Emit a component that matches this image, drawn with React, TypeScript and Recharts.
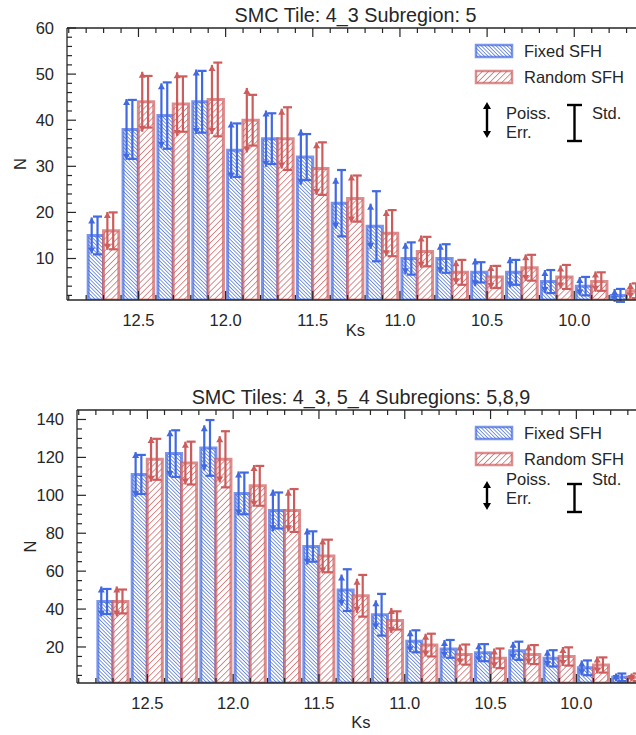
import React from "react";
import { ComposedChart, Bar, Scatter, XAxis, YAxis, ErrorBar, Legend, Label } from "recharts";

const INK = "#262626";
const BLUE = "#4169E1";
const RED = "#CD5C5C";
const FONT = "'Liberation Sans', Arial, sans-serif";
const FS = 16.5;

// Ks bin centres (0.2 mag bins)
const bins = [12.7, 12.5, 12.3, 12.1, 11.9, 11.7, 11.5, 11.3, 11.1, 10.9, 10.7, 10.5, 10.3, 10.1, 9.9, 9.7];
const xMajor = [12.5, 12.0, 11.5, 11.0, 10.5, 10.0];
const xDomain = [9.6, 12.91];

// top panel: SMC Tile 4_3, subregion 5
const fixedTop = [15, 38, 41, 44, 33.5, 36, 32, 22, 17, 10, 10, 7, 7, 5, 4, 2];
const fixedTopPoiss = [3.9, 6.6, 7, 7, 6.2, 6.1, 6, 5.5, 4.9, 3.4, 3.2, 3, 3.3, 2.5, 2, 1.4];
const fixedTopStd = [4.1, 6.4, 7.2, 6.7, 5.8, 5.5, 5, 7.2, 7.6, 3.5, 3.1, 2.2, 2.7, 2.5, 2, 1.4];
const randomTop = [16, 44, 43.5, 44.5, 40, 36, 29.5, 23, 15.5, 11.5, 7, 6, 8, 6, 5, 3];
const randomTopPoiss = [4.1, 6.5, 6.9, 7.5, 7, 6.5, 5.7, 5.2, 5, 3.5, 2.6, 2.6, 2.9, 2.5, 2.2, 1.7];
const randomTopStd = [4, 5.6, 6, 8, 5.5, 6.8, 5.7, 5, 5, 3.2, 2.7, 2.4, 2.8, 2.6, 2, 1.6];
const topYMajor = [10, 20, 30, 40, 50, 60];

// bottom panel: SMC Tiles 4_3, 5_4, subregions 5,8,9
const fixedBot = [44, 111, 122, 125, 101, 92, 73, 50, 37, 23, 19, 17, 18, 14, 9, 4];
const fixedBotPoiss = [7.9, 11.8, 12.3, 11.9, 11.6, 11, 9.5, 8.2, 7.6, 5.8, 4.7, 5, 4.7, 4.5, 3.9, 2];
const fixedBotStd = [6.6, 10.3, 12.3, 14.7, 11, 9.5, 8, 11, 11, 5.8, 4.7, 4.5, 4.8, 4.3, 3.9, 2];
const randomBot = [44, 119, 117, 119, 105, 92, 68, 47, 34, 21, 16, 14, 16, 15, 10.5, 4];
const randomBotPoiss = [7.9, 11.8, 11.3, 12.2, 11, 11, 9.2, 9, 6.6, 6, 5.3, 5.2, 5.3, 5, 4.5, 2];
const randomBotStd = [6.3, 10.8, 11.3, 14.8, 10.5, 11.3, 8.6, 11, 4.8, 6, 5.3, 5.2, 5, 4.8, 4, 2];
const botYMajor = [20, 40, 60, 80, 100, 120, 140];

// minor tick positions
const xTicks: number[] = [];
for (let k = 129; k >= 96; k--) xTicks.push(k / 10);
const topYTicks: number[] = [];
for (let v = 2; v <= 60; v += 2) topYTicks.push(v);
const botYTicks: number[] = [];
for (let v = 5; v <= 140; v += 5) botYTicks.push(v);

const isMajor = (list: number[], v: number) => list.some((m) => Math.abs(m - v) < 1e-6);

function hatchDefs(idp: string) {
  return (
    <>
      <pattern id={idp + "b"} patternUnits="userSpaceOnUse" width={2.6} height={2.6} patternTransform="rotate(-45)">
        <rect width={2.6} height={2.6} fill="#fff" />
        <line x1={1.3} y1={0} x2={1.3} y2={2.6} stroke={BLUE} strokeOpacity={0.8} strokeWidth={0.9} />
      </pattern>
      <pattern id={idp + "r"} patternUnits="userSpaceOnUse" width={4.3} height={4.3} patternTransform="rotate(45)">
        <rect width={4.3} height={4.3} fill="#fff" />
        <line x1={2.15} y1={0} x2={2.15} y2={4.3} stroke={RED} strokeOpacity={0.8} strokeWidth={0.9} />
      </pattern>
    </>
  );
}

const leftTick = (majors: number[]) => (p: any) => {
  const v = p.payload.value;
  const sx = p.x + 13;
  const big = isMajor(majors, v);
  return (
    <g>
      <line x1={sx} x2={sx + (big ? 9 : 5)} y1={p.y} y2={p.y} stroke={INK} strokeWidth={1.2} />
      {big && (
        <text x={p.x} y={p.y} dy="0.36em" textAnchor="end" fontSize={FS} fill={INK}>
          {v}
        </text>
      )}
    </g>
  );
};

const bottomTick = (p: any) => {
  const v = p.payload.value;
  const big = isMajor(xMajor, v);
  return (
    <g>
      <line x1={p.x} x2={p.x} y1={p.y} y2={p.y - (big ? 9 : 5)} stroke={INK} strokeWidth={1.2} />
      {big && (
        <text x={p.x} y={p.y + 26} textAnchor="middle" fontSize={FS} fill={INK}>
          {v.toFixed(1)}
        </text>
      )}
    </g>
  );
};

const topTick = (p: any) => {
  const big = isMajor(xMajor, p.payload.value);
  return <line x1={p.x} x2={p.x} y1={p.y} y2={p.y + (big ? 9 : 5)} stroke={INK} strokeWidth={1.2} />;
};

const headUp = (color: string) => (p: any) => (
  <polygon points={`${p.cx},${p.cy} ${p.cx - 3.5},${p.cy + 6} ${p.cx + 3.5},${p.cy + 6}`} fill={color} />
);
const headDown = (color: string) => (p: any) => (
  <polygon points={`${p.cx},${p.cy} ${p.cx - 3.5},${p.cy - 6} ${p.cx + 3.5},${p.cy - 6}`} fill={color} />
);
const noShape = () => <g />;

function errorSets(vals: number[], poiss: number[], std: number[], arrowOff: number, stdOff: number) {
  return {
    line: bins.map((c, i) => ({ x: c + arrowOff, y: vals[i], e: poiss[i] })),
    up: bins.map((c, i) => ({ x: c + arrowOff, y: vals[i] + poiss[i] })),
    down: bins.map((c, i) => ({ x: c + arrowOff, y: vals[i] - poiss[i] })),
    sd: bins.map((c, i) => ({ x: c + stdOff, y: vals[i], e: std[i] })),
  };
}

type ErrLeg = { py: number; a0: number; a1: number; s0: number; s1: number };

function LegendBox({ idp, err }: { idp: string; err: ErrLeg }) {
  const t = { fontSize: FS, fill: INK };
  return (
    <svg width={176} height={130} style={{ display: "block", overflow: "visible", fontFamily: FONT }}>
      <defs>{hatchDefs(idp)}</defs>
      <rect x={16} y={15} width={36} height={12} fill={`url(#${idp}b)`} stroke={BLUE} strokeOpacity={0.7} strokeWidth={2.5} />
      <text x={64} y={21} dy="0.36em" {...t}>Fixed SFH</text>
      <rect x={16} y={41} width={36} height={12} fill={`url(#${idp}r)`} stroke={RED} strokeOpacity={0.7} strokeWidth={2.5} />
      <text x={64} y={47} dy="0.36em" {...t}>Random SFH</text>
      <line x1={27} x2={27} y1={err.a0 + 4} y2={err.a1 - 4} stroke="#000" strokeWidth={2.4} />
      <polygon points={`27,${err.a0} 23,${err.a0 + 7} 31,${err.a0 + 7}`} fill="#000" />
      <polygon points={`27,${err.a1} 23,${err.a1 - 7} 31,${err.a1 - 7}`} fill="#000" />
      <text x={46} y={err.py} dy="0.36em" {...t}>Poiss.</text>
      <text x={46} y={err.py + 19} dy="0.36em" {...t}>Err.</text>
      <line x1={114.5} x2={114.5} y1={err.s0} y2={err.s1} stroke="#000" strokeWidth={2.4} />
      <line x1={107} x2={122} y1={err.s0} y2={err.s0} stroke="#000" strokeWidth={2.4} />
      <line x1={107} x2={122} y1={err.s1} y2={err.s1} stroke="#000" strokeWidth={2.4} />
      <text x={132} y={err.py} dy="0.36em" {...t}>Std.</text>
    </svg>
  );
}

type PanelProps = {
  idp: string;
  title: string;
  fixed: number[];
  fixedPoiss: number[];
  fixedStd: number[];
  random: number[];
  randomPoiss: number[];
  randomStd: number[];
  yDomain: number[];
  yTicks: number[];
  yMajor: number[];
  width: number;
  height: number;
  margin: { top: number; right: number; bottom: number; left: number };
  xAxisH: number;
  ksDy: number;
  err: ErrLeg;
};

function Panel(props: PanelProps) {
  const { idp, width, height, margin, xAxisH } = props;
  const data = bins.map((ks, i) => ({ ks, fixed: props.fixed[i], random: props.random[i] }));
  const plotW = width - margin.left - 60 - margin.right;
  const band = (0.2 * plotW) / (xDomain[1] - xDomain[0]);
  const barSize = (band - 4.2) / 2;
  const plotTop = margin.top + 1;

  const blue = errorSets(props.fixed, props.fixedPoiss, props.fixedStd, 0.0684, 0.035);
  const red = errorSets(props.random, props.randomPoiss, props.randomStd, -0.0216, -0.055);

  const errSeries = (s: ReturnType<typeof errorSets>, color: string, key: string) => [
    <Scatter key={key + "l"} xAxisId="e" data={s.line} dataKey="y" shape={noShape} isAnimationActive={false}>
      <ErrorBar dataKey="e" direction="y" width={0} stroke={color} strokeWidth={2.2} />
    </Scatter>,
    <Scatter key={key + "u"} xAxisId="e" data={s.up} dataKey="y" shape={headUp(color)} isAnimationActive={false} />,
    <Scatter key={key + "d"} xAxisId="e" data={s.down} dataKey="y" shape={headDown(color)} isAnimationActive={false} />,
    <Scatter key={key + "s"} xAxisId="e" data={s.sd} dataKey="y" shape={noShape} isAnimationActive={false}>
      <ErrorBar dataKey="e" direction="y" width={4.5} stroke={color} strokeWidth={2.2} />
    </Scatter>,
  ];

  return (
    <ComposedChart width={width} height={height} data={data} margin={margin} barGap={0} style={{ fontFamily: FONT }}>
      <defs>{hatchDefs(idp)}</defs>
      <XAxis
        xAxisId="b"
        dataKey="ks"
        type="number"
        domain={xDomain}
        reversed
        allowDataOverflow
        ticks={xTicks}
        interval={0}
        tickSize={0}
        tickMargin={0}
        tickLine={false}
        height={xAxisH}
        axisLine={{ stroke: INK, strokeWidth: 1.3 }}
        tick={bottomTick}
      >
        <Label
          content={(p: any) => (
            <text x={p.viewBox.x + p.viewBox.width / 2} y={p.viewBox.y + props.ksDy} textAnchor="middle" fontSize={FS} fill={INK}>
              Ks
            </text>
          )}
        />
      </XAxis>
      <XAxis
        xAxisId="t"
        orientation="top"
        dataKey="ks"
        type="number"
        domain={xDomain}
        reversed
        allowDataOverflow
        ticks={xTicks}
        interval={0}
        tickSize={0}
        tickMargin={0}
        tickLine={false}
        height={1}
        axisLine={{ stroke: INK, strokeWidth: 1.3 }}
        tick={topTick}
      >
        <Label
          content={(p: any) => (
            <text x={p.viewBox.x + p.viewBox.width / 2} y={plotTop - 6} textAnchor="middle" fontSize={19.8} fill={INK}>
              {props.title}
            </text>
          )}
        />
      </XAxis>
      <XAxis xAxisId="e" dataKey="x" type="number" domain={xDomain} reversed allowDataOverflow hide />
      <YAxis
        type="number"
        domain={props.yDomain}
        allowDataOverflow
        ticks={props.yTicks}
        interval={0}
        tickSize={0}
        tickMargin={13}
        tickLine={false}
        width={60}
        axisLine={{ stroke: INK, strokeWidth: 1.3 }}
        tick={leftTick(props.yMajor)}
      >
        <Label
          content={(p: any) => {
            const x = p.viewBox.x + 13;
            const y = p.viewBox.y + p.viewBox.height / 2;
            return (
              <text x={x} y={y} dy="0.36em" textAnchor="middle" fontSize={FS} fill={INK} transform={`rotate(-90 ${x} ${y})`}>
                N
              </text>
            );
          }}
        />
      </YAxis>
      <Bar
        xAxisId="b"
        dataKey="fixed"
        barSize={barSize}
        fill={`url(#${idp}b)`}
        stroke={BLUE}
        strokeOpacity={0.7}
        strokeWidth={3}
        isAnimationActive={false}
      />
      <Bar
        xAxisId="b"
        dataKey="random"
        barSize={barSize}
        fill={`url(#${idp}r)`}
        stroke={RED}
        strokeOpacity={0.7}
        strokeWidth={3}
        isAnimationActive={false}
      />
      {errSeries(blue, BLUE, "b")}
      {errSeries(red, RED, "r")}
      <Legend
        layout="vertical"
        align="center"
        verticalAlign="middle"
        wrapperStyle={{ position: "absolute", left: 460, top: plotTop + 2, width: 176, height: 130 }}
        content={() => <LegendBox idp={idp + "L"} err={props.err} />}
      />
    </ComposedChart>
  );
}

export default function App() {
  return (
    <div
      style={{
        position: "absolute",
        left: 0,
        top: 0,
        width: 636,
        height: 735,
        overflow: "hidden",
        background: "#fff",
        fontFamily: FONT,
      }}
    >
      <div style={{ position: "absolute", left: 0, top: 0 }}>
        <Panel
          idp="p1"
          title="SMC Tile: 4_3 Subregion: 5"
          fixed={fixedTop}
          fixedPoiss={fixedTopPoiss}
          fixedStd={fixedTopStd}
          random={randomTop}
          randomPoiss={randomTopPoiss}
          randomStd={randomTopStd}
          yDomain={[1, 60]}
          yTicks={topYTicks}
          yMajor={topYMajor}
          width={660}
          height={360}
          margin={{ top: 27, right: 16, bottom: 0, left: 7 }}
          xAxisH={60}
          ksDy={36}
          err={{ py: 83, a0: 72, a1: 108, s0: 75, s1: 111 }}
        />
      </div>
      <div style={{ position: "absolute", left: 0, top: 360 }}>
        <Panel
          idp="p2"
          title="SMC Tiles: 4_3, 5_4 Subregions: 5,8,9"
          fixed={fixedBot}
          fixedPoiss={fixedBotPoiss}
          fixedStd={fixedBotStd}
          random={randomBot}
          randomPoiss={randomBotPoiss}
          randomStd={randomBotStd}
          yDomain={[1, 145]}
          yTicks={botYTicks}
          yMajor={botYMajor}
          width={660}
          height={375}
          margin={{ top: 49, right: 15, bottom: 0, left: 17 }}
          xAxisH={52}
          ksDy={45}
          err={{ py: 67, a0: 69, a1: 98, s0: 72, s1: 100 }}
        />
      </div>
    </div>
  );
}
